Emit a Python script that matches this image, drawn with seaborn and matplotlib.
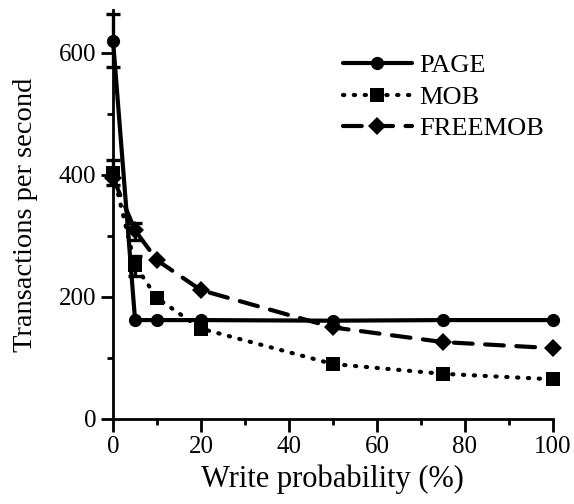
import numpy as np
import pandas as pd
import matplotlib
matplotlib.use("Agg")
import matplotlib.pyplot as plt
import seaborn as sns
from matplotlib.ticker import MultipleLocator

write_prob = [0, 5, 10, 20, 50, 75, 100]
page = [619, 162, 162, 162, 161, 162, 162]
mob = [403, 252, 198, 148, 90, 74, 65]
freemob = [395, 309, 260, 211, 150, 126, 116]

# error bars (x, low, high)
err_series = ["PAGE", "MOB", "MOB", "FREEMOB"]
err_x = [0, 0, 5, 5]
err_low = [576, 383, 234, 293]
err_high = [663, 425, 267, 321]

series_names = ["PAGE", "MOB", "FREEMOB"]
df = pd.DataFrame({
    "x": write_prob * 3,
    "y": page + mob + freemob,
    "series": sum([[n] * len(write_prob) for n in series_names], []),
})

sns.set_style("ticks")
plt.rcParams["font.family"] = ["Liberation Serif", "DejaVu Serif"]
for k in ["text.color", "axes.labelcolor", "xtick.color", "ytick.color", "axes.edgecolor"]:
    plt.rcParams[k] = "black"

fig = plt.figure(figsize=(5.74, 5.04), dpi=100)
ax = fig.add_axes([0.197, 0.1687, 0.766, 0.8115])

sns.lineplot(data=df, x="x", y="y", style="series", hue="series",
             palette=["black"] * 3,
             markers={"PAGE": "o", "MOB": "s", "FREEMOB": "D"},
             dashes={"PAGE": "", "MOB": (0.3, 2.3), "FREEMOB": (4.5, 3.0)},
             linewidth=3.0, markersize=9.5, markeredgewidth=0,
             ax=ax, legend=True)
for line in ax.lines:
    line.set_clip_on(False)
    line.set_dash_capstyle("round")

for s, xv, lo, hi in zip(err_series, err_x, err_low, err_high):
    ax.vlines(xv, lo, hi, color="black", lw=2.4, clip_on=False)
    ax.hlines([lo, hi], xv - 1.6, xv + 1.6, color="black", lw=2.4, clip_on=False)

ax.set_xlim(0, 100)
ax.set_ylim(0, 670)
ax.xaxis.set_major_locator(MultipleLocator(20))
ax.xaxis.set_minor_locator(MultipleLocator(10))
ax.yaxis.set_major_locator(MultipleLocator(200))
ax.yaxis.set_minor_locator(MultipleLocator(100))
ax.tick_params(which="major", length=9, width=2.0, labelsize=18, direction="out", pad=3)
ax.tick_params(which="minor", length=4.5, width=2.0, direction="out")
for side in ["top", "right"]:
    ax.spines[side].set_visible(False)
for side in ["left", "bottom"]:
    ax.spines[side].set_linewidth(2.0)
ax.set_xlabel("Write probability (%)", fontsize=22, labelpad=5)
ax.set_ylabel("Transactions per second", fontsize=20.5, labelpad=15)

leg = ax.legend(loc="upper left", bbox_to_anchor=(343 / 574, 1 - 54 / 504),
                bbox_transform=fig.transFigure, borderaxespad=0, borderpad=0,
                frameon=False, fontsize=19, handlelength=2.6, labelspacing=0.3,
                handletextpad=0.3)
for t in leg.get_texts():
    t.set_color("black")
for h in leg.get_lines():
    h.set_dash_capstyle("round")

fig.savefig("out.png", dpi=100)
